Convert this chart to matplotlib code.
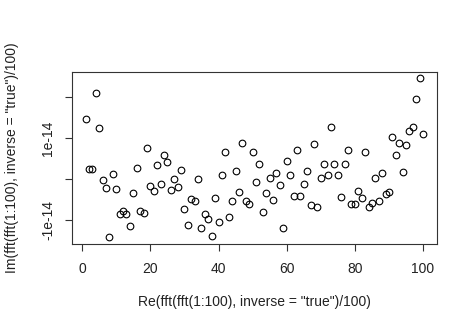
import numpy as np
import matplotlib.pyplot as plt

plt.rcParams['font.family'] = ['Liberation Sans', 'DejaVu Sans']

# x is just 1..100 (real part of the round trip)
re_vals = np.arange(1, 101)

# imaginary part, in units of 1e-14
im_vals = [1.47, 0.24, 0.24, 2.10, 1.24, -0.02, -0.22, -1.42, 0.12, -0.24,
           -0.86, -0.77, -0.85, -1.15, -0.34, 0.28, -0.77, -0.84, 0.75, -0.16,
           -0.28, 0.35, -0.11, 0.59, 0.41, -0.27, 0.01, -0.20, 0.21, -0.73,
           -1.12, -0.49, -0.53, 0.01, -1.20, -0.86, -0.98, -1.38, -0.46, -1.04,
           0.10, 0.67, -0.93, -0.53, 0.19, -0.31, 0.89, -0.53, -0.62, 0.67,
           -0.06, 0.37, -0.80, -0.33, 0.03, -0.51, 0.16, -0.15, -1.20, 0.43,
           0.10, -0.41, 0.72, -0.41, -0.13, 0.19, -0.64, 0.86, -0.69, 0.02,
           0.37, 0.11, 1.28, 0.37, 0.10, -0.44, 0.38, 0.72, -0.60, -0.62,
           -0.28, -0.47, 0.66, -0.67, -0.59, 0.03, -0.53, 0.15, -0.37, -0.32,
           1.02, 0.58, 0.89, 0.17, 0.84, 1.18, 1.28, 1.96, 2.46, 1.10]
im_vals = np.array(im_vals) * 1e-14

yticks = [-1e-14, 0, 1e-14, 2e-14]
ytick_labels = ['-1e-14', '', '1e-14', '']
xticks = [0, 20, 40, 60, 80, 100]

fig = plt.figure(figsize=(4.74, 3.34), dpi=100)
ax = fig.add_axes([0.152, 0.2707, 0.769, 0.5137])

ax.plot(re_vals, im_vals, 'o', mfc='none', mec='black', ms=4.8, mew=0.8)

# R style 4% padding
xr = re_vals.max() - re_vals.min()
ax.set_xlim(re_vals.min() - 0.04 * xr, re_vals.max() + 0.04 * xr)
yr = im_vals.max() - im_vals.min()
ax.set_ylim(im_vals.min() - 0.04 * yr, im_vals.max() + 0.04 * yr)

ax.set_xticks(xticks)
ax.set_xticklabels([str(t) for t in xticks])
ax.set_yticks(yticks)
ax.set_yticklabels(ytick_labels, rotation=90, va='center')
ax.tick_params(direction='out', length=5, width=0.8, labelsize=10,
               pad=8, colors='#333333', labelcolor='#222222')
ax.tick_params(axis='y', pad=7)
for s in ax.spines.values():
    s.set_linewidth(0.8)
    s.set_color('#333333')

ax.set_xlabel('Re(fft(fft(1:100), inverse = "true")/100)', fontsize=10, color='#222222')
ax.set_ylabel('Im(fft(fft(1:100), inverse = "true")/100)', fontsize=10, color='#222222')
ax.xaxis.set_label_coords(0.5, -0.34)
ax.yaxis.set_label_coords(-0.165, 0.5)
ax.xaxis.label.set_va('center')
ax.yaxis.label.set_va('center')

fig.savefig('out.png', dpi=100)
